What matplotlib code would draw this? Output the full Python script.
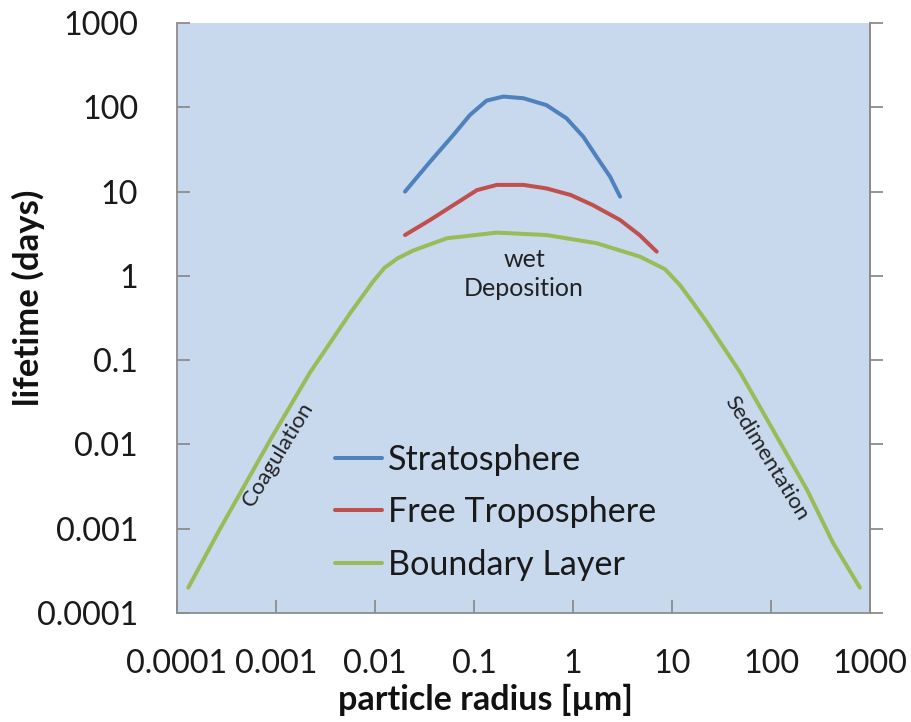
import matplotlib
matplotlib.use("Agg")
import matplotlib.pyplot as plt
from matplotlib.ticker import FixedLocator, NullLocator

plt.rcParams['font.family'] = ['Lato', 'DejaVu Sans']

# Data (particle radius in µm, lifetime in days)
bl_x = [0.00013, 0.00027, 0.00087, 0.0022, 0.0056, 0.0095, 0.0125, 0.017, 0.0244,
        0.053, 0.17, 0.54, 1.73, 4.75, 8.5, 12, 16.3, 22.6, 49, 105, 231, 423, 790]
bl_y = [0.0002, 0.00098, 0.0112, 0.071, 0.36, 0.85, 1.25, 1.62, 2.0,
        2.79, 3.26, 3.05, 2.44, 1.69, 1.2, 0.78, 0.48, 0.28, 0.071, 0.0148,
        0.0029, 0.00068, 0.0002]

st_x = [0.0201, 0.036, 0.0618, 0.091, 0.134, 0.198, 0.316, 0.54, 0.86, 1.27, 1.73, 2.37, 2.99]
st_y = [10, 22.6, 46.9, 81, 120, 134, 128, 106, 74, 44.8, 25.9, 15, 8.7]

ft_x = [0.0201, 0.036, 0.0618, 0.107, 0.17, 0.316, 0.54, 0.95, 1.59, 2.99, 4.7, 7.0]
ft_y = [3.05, 4.6, 6.9, 10.4, 12, 12, 10.9, 9.1, 6.9, 4.6, 3.05, 1.94]

ticks = [0.0001, 0.001, 0.01, 0.1, 1, 10, 100, 1000]
tick_labels = ["0.0001", "0.001", "0.01", "0.1", "1", "10", "100", "1000"]

fig = plt.figure(figsize=(9.12, 7.22), dpi=100)
ax = fig.add_axes([177/912, 1-613/722, (870-177)/912, (613-23)/722])
ax.set_facecolor('#C8D9EE')

ax.plot(st_x, st_y, color='#4F81BD', lw=2.9, label='Stratosphere', solid_capstyle='round')
ax.plot(ft_x, ft_y, color='#C0504D', lw=2.9, label='Free Troposphere', solid_capstyle='round')
ax.plot(bl_x, bl_y, color='#9BBB59', lw=2.9, label='Boundary Layer', solid_capstyle='round')

ax.set_xscale('log')
ax.set_yscale('log')
ax.set_xlim(1e-4, 1e3)
ax.set_ylim(1e-4, 1e3)

ax.xaxis.set_major_locator(FixedLocator(ticks))
ax.yaxis.set_major_locator(FixedLocator(ticks))
ax.xaxis.set_minor_locator(NullLocator())
ax.yaxis.set_minor_locator(NullLocator())
ax.set_xticklabels(tick_labels)
ax.set_yticklabels(tick_labels)

gray = '#8C8C8C'
for s in ['left', 'right', 'bottom']:
    ax.spines[s].set_color(gray)
    ax.spines[s].set_linewidth(1.3)
ax.spines['top'].set_visible(False)

ax.tick_params(axis='both', which='major', direction='in', length=9.5, width=1.3,
               color=gray, labelsize=23.3, labelcolor='#1a1a1a', pad=28)
ax.tick_params(axis='x', pad=26)
ax.tick_params(axis='y', left=True, right=False)

sec = ax.secondary_yaxis('right')
sec.yaxis.set_major_locator(FixedLocator(ticks))
sec.yaxis.set_minor_locator(NullLocator())
sec.tick_params(direction='out', length=9.5, width=1.3, color=gray, labelright=False)
sec.spines['right'].set_color(gray)
sec.spines['right'].set_linewidth(1.3)

fig.text(28/912, 1-298/722, 'lifetime (days)', rotation=90, ha='center', va='center',
         fontsize=25, fontweight='bold', color='#111111')
fig.text(485/912, 1-700/722, 'particle radius [µm]', ha='center', va='center',
         fontsize=24.5, fontweight='bold', color='#111111')

ax.text(0.00105, 0.0075, 'Coagulation', rotation=58.8, ha='center', va='center',
        fontsize=16, color='#222222')
ax.text(91, 0.0069, 'Sedimentation', rotation=-58.4, ha='center', va='center',
        fontsize=16, color='#222222')
ax.text(0.32, 1.05, 'wet\nDeposition', ha='center', va='center', fontsize=18,
        color='#222222', linespacing=1.3)

leg = ax.legend(loc='upper left', bbox_to_anchor=((335-177)/693, 1-(443.6-23)/590),
                frameon=False, fontsize=24.6, handlelength=1.38, handletextpad=0.18,
                labelspacing=0.6, borderpad=0, borderaxespad=0)
for t in leg.get_texts():
    t.set_color('#1a1a1a')

fig.savefig('out.png', dpi=100)
